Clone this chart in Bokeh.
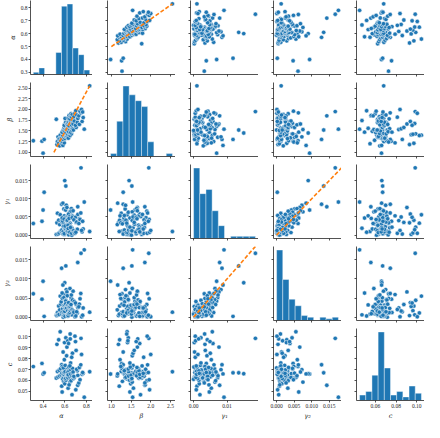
import numpy as np
from bokeh.plotting import figure
from bokeh.layouts import gridplot
from bokeh.models import Range1d, FixedTicker, NumeralTickFormatter, CustomLabelingPolicy
from bokeh.embed import file_html
from bokeh.resources import INLINE

alpha = [
    0.310, 0.390, 0.400, 0.410, 0.830, 0.780, 0.750, 0.610, 0.600, 0.571,
    0.720, 0.522, 0.528, 0.533, 0.538, 0.544, 0.549, 0.553, 0.558, 0.562,
    0.567, 0.572, 0.578, 0.583, 0.590, 0.596, 0.574, 0.580, 0.585, 0.588,
    0.592, 0.598, 0.602, 0.606, 0.610, 0.614, 0.619, 0.576, 0.587, 0.594,
    0.600, 0.604, 0.608, 0.612, 0.617, 0.595, 0.609, 0.620, 0.603, 0.624,
    0.628, 0.633, 0.641, 0.650, 0.662, 0.626, 0.631, 0.637, 0.643, 0.648,
    0.654, 0.659, 0.665, 0.671, 0.625, 0.630, 0.635, 0.639, 0.645, 0.651,
    0.656, 0.661, 0.667, 0.672, 0.632, 0.640, 0.647, 0.653, 0.658, 0.664,
    0.669, 0.680, 0.705, 0.677, 0.688, 0.699, 0.716, 0.684, 0.694, 0.710,
    0.721, 0.702, 0.735, 0.760, 0.730, 0.748, 0.770, 0.741, 0.755, 0.765]

beta = [
    1.27, 1.26, 0.98, 1.30, 2.55, 1.54, 1.95, 1.52, 1.45, 1.30,
    1.85, 1.77, 1.18, 1.25, 1.36, 1.21, 1.31, 1.15, 1.40, 1.27,
    1.34, 1.20, 1.24, 1.16, 1.28, 1.22, 1.33, 1.39, 1.30, 1.44,
    1.35, 1.41, 1.32, 1.38, 1.43, 1.36, 1.40, 1.47, 1.52, 1.57,
    1.49, 1.55, 1.60, 1.46, 1.53, 1.63, 1.70, 1.66, 1.79, 1.37,
    1.42, 1.33, 1.44, 1.39, 1.43, 1.50, 1.56, 1.48, 1.59, 1.53,
    1.47, 1.58, 1.51, 1.55, 1.64, 1.69, 1.72, 1.62, 1.75, 1.67,
    1.71, 1.64, 1.74, 1.68, 1.80, 1.86, 1.78, 1.84, 1.90, 1.82,
    1.88, 1.52, 1.58, 1.66, 1.73, 1.63, 1.70, 1.83, 1.91, 1.87,
    1.79, 1.97, 1.65, 1.72, 1.85, 1.92, 1.81, 1.96, 2.00, 1.94]

gamma1 = [
    0.0032, 0.0038, 0.0069, 0.0118, 0.0010, 0.0091, 0.0185, 0.0135, 0.0150, 0.0085,
    0.0078, 0.0002, 0.0034, 0.0060, 0.0003, 0.0041, 0.0006, 0.0029, 0.0056, 0.0011,
    0.0038, 0.0010, 0.0034, 0.0088, 0.0031, 0.0053, 0.0014, 0.0039, 0.0003, 0.0024,
    0.0072, 0.0002, 0.0047, 0.0007, 0.0022, 0.0082, 0.0028, 0.0047, 0.0010, 0.0044,
    0.0017, 0.0020, 0.0069, 0.0016, 0.0040, 0.0004, 0.0026, 0.0076, 0.0025, 0.0041,
    0.0006, 0.0054, 0.0014, 0.0033, 0.0063, 0.0013, 0.0053, 0.0001, 0.0030, 0.0064,
    0.0022, 0.0055, 0.0000, 0.0050, 0.0011, 0.0027, 0.0058, 0.0009, 0.0051, 0.0015,
    0.0023, 0.0073, 0.0019, 0.0052, 0.0018, 0.0046, 0.0008, 0.0021, 0.0066, 0.0005,
    0.0048, 0.0012, 0.0035, 0.0067, 0.0007, 0.0049, 0.0016, 0.0042, 0.0005, 0.0036,
    0.0057, 0.0008, 0.0045, 0.0009, 0.0032, 0.0061, 0.0017, 0.0043, 0.0013, 0.0038]

gamma2 = [
    0.0061, 0.0047, 0.0094, 0.0002, 0.0013, 0.0176, 0.0167, 0.0134, 0.0090, 0.0128,
    0.0143, 0.0005, 0.0004, 0.0012, 0.0006, 0.0029, 0.0007, 0.0019, 0.0055, 0.0034,
    0.0040, 0.0008, 0.0049, 0.0084, 0.0009, 0.0059, 0.0013, 0.0022, 0.0014, 0.0030,
    0.0051, 0.0028, 0.0031, 0.0013, 0.0044, 0.0072, 0.0015, 0.0063, 0.0000, 0.0011,
    0.0015, 0.0023, 0.0042, 0.0022, 0.0024, 0.0004, 0.0035, 0.0066, 0.0002, 0.0056,
    0.0017, 0.0003, 0.0009, 0.0011, 0.0046, 0.0031, 0.0032, 0.0010, 0.0021, 0.0075,
    0.0012, 0.0051, 0.0008, 0.0016, 0.0003, 0.0007, 0.0038, 0.0026, 0.0026, 0.0006,
    0.0025, 0.0058, 0.0006, 0.0045, 0.0004, 0.0009, 0.0012, 0.0017, 0.0033, 0.0020,
    0.0019, 0.0016, 0.0033, 0.0068, 0.0041, 0.0037, 0.0011, 0.0013, 0.0001, 0.0014,
    0.0025, 0.0003, 0.0034, 0.0002, 0.0027, 0.0062, 0.0024, 0.0048, 0.0001, 0.0005]

c = [
    0.0727, 0.0756, 0.0659, 0.0670, 0.0680, 0.0447, 0.0985, 0.0670, 0.0662, 0.0744,
    0.0556, 0.0622, 0.0930, 0.0682, 0.0632, 0.0972, 0.0693, 0.0642, 0.1045, 0.0708,
    0.0651, 0.0548, 0.0728, 0.0660, 0.0592, 0.0790, 0.0668, 0.0615, 0.0860, 0.0677,
    0.0625, 0.0946, 0.0685, 0.0636, 0.0990, 0.0699, 0.0645, 0.0495, 0.0715, 0.0654,
    0.0570, 0.0738, 0.0663, 0.0603, 0.0826, 0.0672, 0.0620, 0.0905, 0.0680, 0.0630,
    0.0963, 0.0690, 0.0640, 0.1025, 0.0705, 0.0649, 0.0530, 0.0723, 0.0658, 0.0585,
    0.0760, 0.0667, 0.0611, 0.0849, 0.0675, 0.0624, 0.0938, 0.0684, 0.0634, 0.0980,
    0.0696, 0.0643, 0.0470, 0.0711, 0.0652, 0.0560, 0.0733, 0.0661, 0.0598, 0.0812,
    0.0670, 0.0618, 0.0875, 0.0678, 0.0628, 0.0955, 0.0688, 0.0638, 0.1005, 0.0702,
    0.0647, 0.0515, 0.0719, 0.0656, 0.0578, 0.0743, 0.0665, 0.0607, 0.0838, 0.0673]

labels = ["α", "β", "γ₁", "γ₂", "c"]
x_ticks = [[0.4, 0.6, 0.8], [1.0, 1.5, 2.0, 2.5], [0.0, 0.01],
           [0.0, 0.005, 0.01, 0.015], [0.06, 0.08, 0.10]]
y_ticks = [[0.3, 0.4, 0.5, 0.6, 0.7, 0.8], [1.0, 1.25, 1.5, 1.75, 2.0, 2.25, 2.5],
           [0.0, 0.005, 0.01, 0.015], [0.0, 0.005, 0.01, 0.015],
           [0.05, 0.06, 0.07, 0.08, 0.09, 0.10]]
x_fmt = ["0.0", "0.0", "0.00", "0.000", "0.00"]
y_fmt = ["0.0", "0.00", "0.000", "0.000", "0.00"]

fit_alpha = [0.50, 0.83]
fit_beta = [1.00, 2.55]
gamma_line = [0.0, 0.0185]

BLUE = "#1f77b4"
ORANGE = "#ff7f0e"
AX = "#262626"
TICK_FONT = "Liberation Serif"

data = [np.array(v) for v in (alpha, beta, gamma1, gamma2, c)]
ranges = []
for v in data:
    lo, hi = v.min(), v.max()
    pad = 0.05 * (hi - lo)
    ranges.append((lo - pad, hi + pad))

lines = {(1, 0): (fit_alpha, fit_beta), (0, 1): (fit_beta, fit_alpha),
         (2, 3): (gamma_line, gamma_line), (3, 2): (gamma_line, gamma_line)}

hide_labels = CustomLabelingPolicy(code="return new Set()")

FW, FH = 68, 74
rows = []
for r in range(5):
    row = []
    for k in range(5):
        left = 24 if k == 0 else 15
        bottom = 20 if r == 4 else 8
        p = figure(width=left + FW, height=FH + bottom,
                   x_range=Range1d(*ranges[k]), y_range=Range1d(*ranges[r]),
                   output_backend="svg", toolbar_location=None,
                   min_border_left=left, min_border_right=0,
                   min_border_top=0, min_border_bottom=bottom)
        p.outline_line_color = None
        p.xgrid.visible = False
        p.ygrid.visible = False
        p.background_fill_color = "white"
        for ax, ticks, fmt, show in ((p.xaxis, x_ticks[k], x_fmt[k], r == 4),
                                     (p.yaxis, y_ticks[r], y_fmt[r], k == 0)):
            ax.ticker = FixedTicker(ticks=ticks)
            ax.formatter = NumeralTickFormatter(format=fmt)
            ax.axis_line_color = AX
            ax.axis_line_width = 0.8
            ax.major_tick_line_color = AX
            ax.major_tick_line_width = 0.8
            ax.major_tick_out = 2
            ax.major_tick_in = 0
            ax.minor_tick_out = 0
            ax.minor_tick_in = 0
            ax.major_label_text_font = TICK_FONT
            ax.major_label_text_color = AX
            ax.axis_label_text_font = "DejaVu Serif"
            ax.axis_label_text_font_style = "italic"
            ax.axis_label_text_font_size = "6.5px"
            ax.axis_label_text_color = AX
            ax.axis_label_standoff = 1
            if show:
                ax.major_label_standoff = 1
                ax.major_label_text_font_size = "5.5px"
            else:
                ax.major_label_standoff = 0
                ax.major_label_text_font_size = "1px"
                ax.major_label_policy = hide_labels
        if r == 4:
            p.xaxis.axis_label = labels[k]
        if k == 0:
            p.yaxis.axis_label = labels[r]

        if r == k:
            counts, edges = np.histogram(data[k], bins=10)
            p.extra_y_ranges = {"cnt": Range1d(0, counts.max() * 1.05)}
            p.quad(left=edges[:-1], right=edges[1:], bottom=0, top=counts,
                   y_range_name="cnt", fill_color=BLUE, line_color="white",
                   line_width=0.4)
        else:
            p.scatter(x=data[k], y=data[r], size=4.4, fill_color=BLUE,
                      line_color="white", line_width=0.5)
            if (r, k) in lines:
                xs, ys = lines[(r, k)]
                p.line(xs, ys, line_color=ORANGE, line_width=1.6,
                       line_dash="4 2")
        row.append(p)
    rows.append(row)

grid = gridplot(rows, toolbar_location=None)
open("out.html", "w").write(file_html(grid, INLINE))
